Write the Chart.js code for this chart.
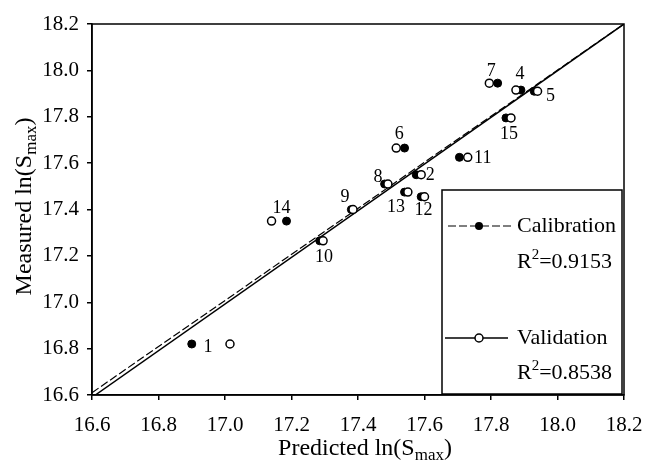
<!DOCTYPE html>
<html>
<head>
<meta charset="utf-8">
<script src="https://cdn.jsdelivr.net/npm/chart.js@4.4.1/dist/chart.umd.min.js"></script>
<style>
    html, body { margin: 0; padding: 0; background: #fff; }
</style>
</head>
<body>
<canvas id="grafico" width="649" height="460"></canvas>
<script>
// numero de cada punto y sus valores (calibracion = relleno, validacion = hueco)
const numeros = ['1', '2', '4', '5', '6', '7', '8', '9', '10', '11', '12', '13', '14', '15'];
const calX = [16.90, 17.575, 17.89, 17.93, 17.54, 17.82, 17.48, 17.38, 17.285, 17.705, 17.59, 17.54, 17.185, 17.845];
const calY = [16.82, 17.55, 17.915, 17.91, 17.665, 17.945, 17.51, 17.40, 17.265, 17.625, 17.455, 17.475, 17.35, 17.795];
const valX = [17.015, 17.59, 17.875, 17.94, 17.515, 17.795, 17.49, 17.385, 17.295, 17.73, 17.60, 17.55, 17.14, 17.86];
const valY = [16.82, 17.55, 17.915, 17.91, 17.665, 17.945, 17.51, 17.40, 17.265, 17.625, 17.455, 17.475, 17.35, 17.795];

// rectas de ajuste
const rectaCalX = [16.6, 18.2];
const rectaCalY = [16.61, 18.2];
const rectaValX = [16.61, 18.2];
const rectaValY = [16.6, 18.2];

const marcas = [16.6, 16.8, 17.0, 17.2, 17.4, 17.6, 17.8, 18.0, 18.2];
const r2Cal = '0.9153';
const r2Val = '0.8538';

// desplazamiento en pixeles de cada numero respecto al punto hueco
const desplaz = [[-22, 3], [9, 1], [4, -16], [13, 5], [3, -14], [2, -12], [-10, -7],
                 [-8, -12], [1, 16], [15, 1], [-1, 14], [-12, 15], [10, -13], [-2, 16]];

const FUENTE = '"Liberation Serif", "Times New Roman", serif';
Chart.defaults.font.family = FUENTE;
Chart.defaults.color = '#000';

const puntos = (xs, ys) => xs.map((v, i) => ({x: v, y: ys[i]}));

// texto con subindice o superindice
const textoPartes = (ctx, partes, x, y, alinear) => {
    let ancho = 0;
    partes.forEach(p => {
        ctx.font = p.size + 'px ' + FUENTE;
        ancho += ctx.measureText(p.t).width;
    });
    let px = alinear === 'center' ? x - ancho / 2 : x;
    ctx.textAlign = 'left';
    partes.forEach(p => {
        ctx.font = p.size + 'px ' + FUENTE;
        ctx.fillText(p.t, px, y + (p.dy || 0));
        px += ctx.measureText(p.t).width;
    });
};

const dibujos = {
    id: 'dibujos',
    afterDatasetsDraw(chart) {
        const {ctx, chartArea: a, scales: {x, y}} = chart;
        ctx.save();
        ctx.strokeStyle = '#000';
        ctx.fillStyle = '#000';

        // marco
        ctx.lineWidth = 1.5;
        ctx.strokeRect(a.left, a.top, a.right - a.left, a.bottom - a.top);

        // numeros de los puntos
        ctx.font = '18px ' + FUENTE;
        ctx.textAlign = 'center';
        ctx.textBaseline = 'middle';
        numeros.forEach((n, i) => {
            const px = x.getPixelForValue(valX[i]) + desplaz[i][0];
            const py = y.getPixelForValue(valY[i]) + desplaz[i][1];
            ctx.fillText(n, px, py);
        });

        // leyenda
        const L = a.left + 350, T = a.top + 166;
        const R = a.right - 2, B = a.bottom - 1;
        ctx.lineWidth = 1.5;
        ctx.strokeRect(L, T, R - L, B - T);

        ctx.lineWidth = 1.2;
        ctx.setLineDash([8, 3]);
        ctx.beginPath();
        ctx.moveTo(L + 6, T + 36);
        ctx.lineTo(L + 70, T + 36);
        ctx.stroke();
        ctx.setLineDash([]);
        ctx.beginPath();
        ctx.arc(L + 37, T + 36, 4, 0, Math.PI * 2);
        ctx.fill();

        ctx.lineWidth = 1.5;
        ctx.beginPath();
        ctx.moveTo(L + 3, T + 148);
        ctx.lineTo(L + 66, T + 148);
        ctx.stroke();
        ctx.beginPath();
        ctx.arc(L + 37, T + 148, 4, 0, Math.PI * 2);
        ctx.fillStyle = '#fff';
        ctx.fill();
        ctx.stroke();
        ctx.fillStyle = '#000';

        ctx.textBaseline = 'middle';
        textoPartes(ctx, [{t: 'Calibration', size: 22}], L + 75, T + 36);
        textoPartes(ctx, [{t: 'R', size: 22}, {t: '2', size: 15, dy: -7}, {t: '=' + r2Cal, size: 22}], L + 75, T + 72);
        textoPartes(ctx, [{t: 'Validation', size: 22}], L + 75, T + 148);
        textoPartes(ctx, [{t: 'R', size: 22}, {t: '2', size: 15, dy: -7}, {t: '=' + r2Val, size: 22}], L + 75, T + 183);

        // titulos de los ejes
        ctx.textBaseline = 'alphabetic';
        const cx = (a.left + a.right) / 2 + 7;
        textoPartes(ctx, [{t: 'Predicted ln(S', size: 24}, {t: 'max', size: 17, dy: 5}, {t: ')', size: 24}], cx, 455, 'center');

        ctx.translate(31, (a.top + a.bottom) / 2 - 3);
        ctx.rotate(-Math.PI / 2);
        textoPartes(ctx, [{t: 'Measured ln(S', size: 24}, {t: 'max', size: 17, dy: 5}, {t: ')', size: 24}], 0, 0, 'center');
        ctx.restore();
    }
};

const ejeComun = {
    type: 'linear',
    min: 16.6,
    max: 18.2,
    afterBuildTicks: s => { s.ticks = marcas.map(v => ({value: v})); },
    grid: {drawOnChartArea: false, tickLength: 5, color: '#000', lineWidth: 1.5},
    border: {color: '#000', width: 1.5}
};

// el area del grafico queda fijada por layout.padding
const sinRelleno = s => {
    s.paddingLeft = 0;
    s.paddingRight = 0;
    s.paddingTop = 0;
    s.paddingBottom = 0;
};

new Chart(document.getElementById('grafico'), {
    type: 'scatter',
    data: {
        datasets: [{
            label: 'Validation',
            data: puntos(valX, valY),
            pointRadius: 4,
            pointBackgroundColor: '#fff',
            pointBorderColor: '#000',
            pointBorderWidth: 1.5,
            order: 1
        }, {
            label: 'Calibration',
            data: puntos(calX, calY),
            pointRadius: 4,
            pointBackgroundColor: '#000',
            pointBorderColor: '#000',
            pointBorderWidth: 1,
            order: 2
        }, {
            type: 'line',
            label: 'Recta validacion',
            data: puntos(rectaValX, rectaValY),
            borderColor: '#000',
            borderWidth: 1.5,
            pointRadius: 0,
            order: 3
        }, {
            type: 'line',
            label: 'Recta calibracion',
            data: puntos(rectaCalX, rectaCalY),
            borderColor: '#000',
            borderWidth: 1.2,
            borderDash: [8, 3],
            pointRadius: 0,
            order: 4
        }]
    },
    options: {
        responsive: false,
        animation: false,
        layout: {padding: {top: 24, right: 25, left: 0, bottom: 0}},
        plugins: {
            legend: {display: false},
            tooltip: {enabled: false}
        },
        scales: {
            x: {
                ...ejeComun,
                afterFit: s => { s.height = 65; sinRelleno(s); },
                ticks: {callback: v => v.toFixed(1), font: {size: 21}, padding: 13, maxRotation: 0, autoSkip: false}
            },
            y: {
                ...ejeComun,
                afterFit: s => { s.width = 92; sinRelleno(s); },
                ticks: {callback: v => v.toFixed(1), font: {size: 21}, padding: 8, autoSkip: false}
            }
        }
    },
    plugins: [dibujos]
});
</script>
</body>
</html>
